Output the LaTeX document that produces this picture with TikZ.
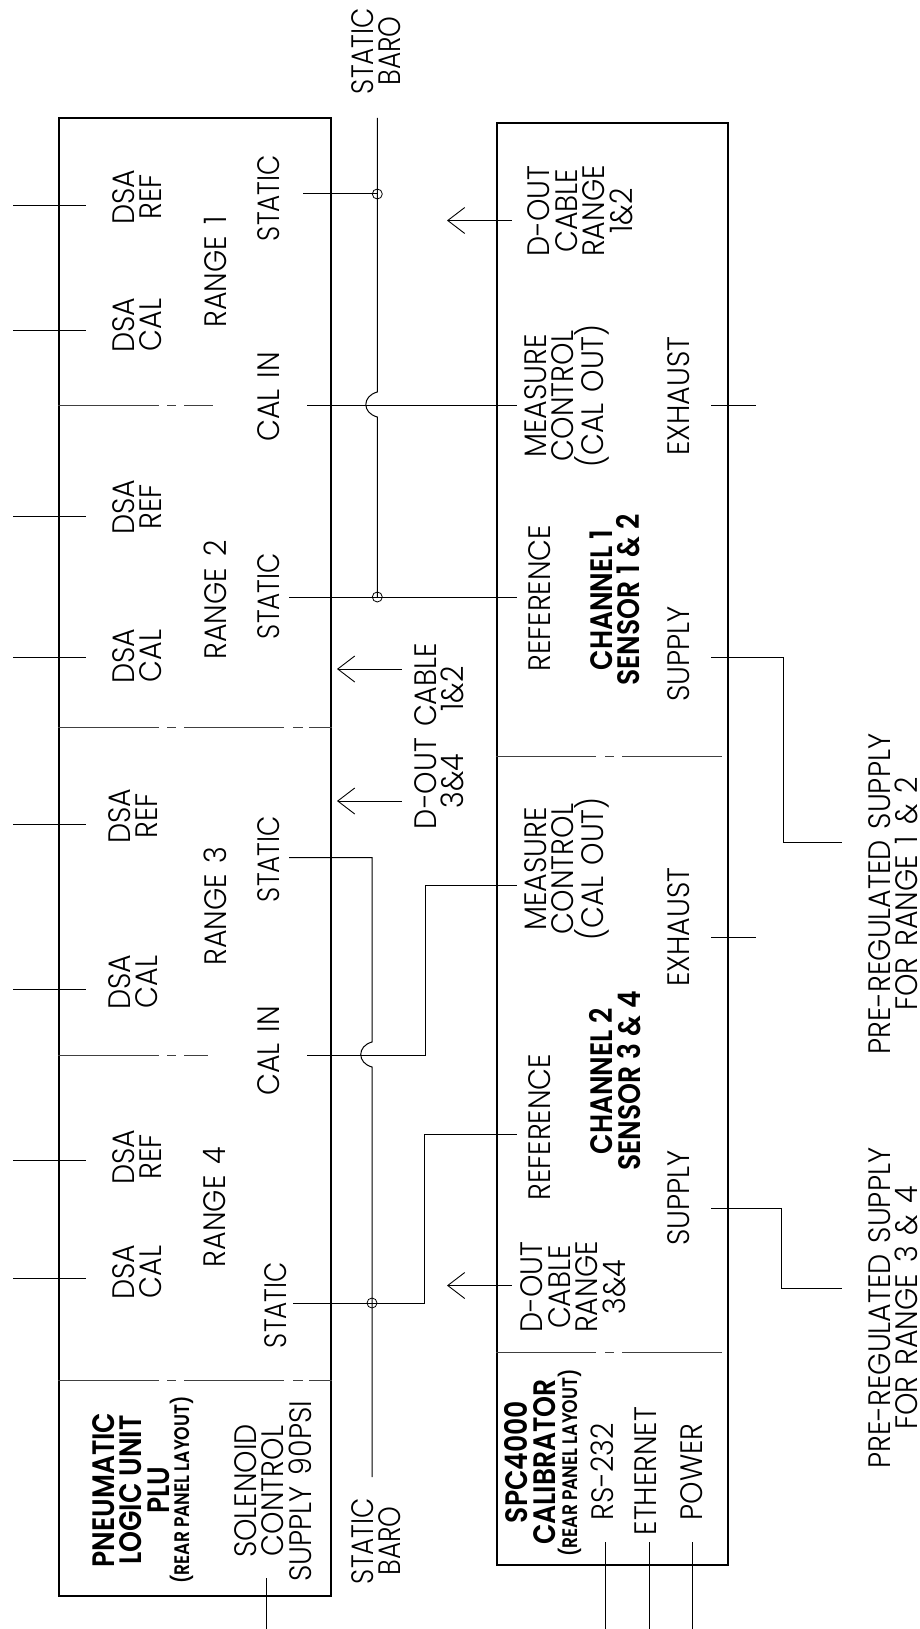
\documentclass[tikz,border=0pt]{standalone}
\usepackage{fontspec}
\setmainfont{Poppins Light}[FakeStretch=0.92,WordSpace=1.4]
\newfontfamily\titlefont{Poppins SemiBold}[FakeStretch=0.86,WordSpace=1.1]
\newfontfamily\subfont{Poppins SemiBold}[FakeStretch=0.82]
\newfontfamily\tightfont{Poppins Light}[FakeStretch=0.85]
\usetikzlibrary{arrows.meta,calc}

\begin{document}
\begin{tikzpicture}[
x=1pt, y=-1pt,
panel/.style={draw, line width=1.3pt, inner sep=0pt},
wire/.style={line width=1pt},
centerl/.style={line width=0.7pt, draw=black!75},
junction/.style={draw, circle, line width=0.8pt, inner sep=0pt, minimum size=10pt},
arrow/.style={{Straight Barb[length=17pt,width=26pt]}-, line width=0.9pt},
lbl/.style={xshift=2pt, rotate=90, align=center, inner sep=0pt, font=\fontsize{31}{27.5}\selectfont},
tight/.style={lbl, font=\fontsize{31}{27.5}\selectfont\tightfont},
title/.style={lbl, font=\fontsize{31}{27.5}\selectfont\titlefont},
subtitle/.style={lbl, font=\fontsize{21}{21}\selectfont\subfont}
]
\useasboundingbox (0,0) rectangle (919,1629);

% the two rear panels
\node[panel, minimum width=272pt, minimum height=1478pt] (plu) at (195,857) {};
\node[panel, minimum width=231pt, minimum height=1442pt] (spc) at (612.5,844) {};

% plu labels
\node[tight] (staticbarotop) at (374,51) {STATIC\\BARO};
\node[lbl] (dsaref1) at (135,197) {DSA\\REF};
\node[lbl] (dsacal1) at (135,325) {DSA\\CAL};
\node[lbl] (range1) at (213,272) {RANGE 1};
\node[tight] (static1) at (267,198) {STATIC};
\node[lbl] (calin1) at (267,397) {CAL IN};
\node[lbl] (dsaref2) at (135,507) {DSA\\REF};
\node[lbl] (dsacal2) at (135,656) {DSA\\CAL};
\node[lbl] (range2) at (213,600) {RANGE 2};
\node[tight] (static2) at (267,596) {STATIC};
\node[lbl] (dsaref3) at (131,816) {DSA\\REF};
\node[lbl] (dsacal3) at (131,982) {DSA\\CAL};
\node[lbl] (range3) at (213,906) {RANGE 3};
\node[tight] (static3) at (267,859) {STATIC};
\node[lbl] (calin3) at (267,1051) {CAL IN};
\node[lbl] (dsaref4) at (135,1157) {DSA\\REF};
\node[lbl] (dsacal4) at (135,1272) {DSA\\CAL};
\node[lbl] (range4) at (213,1207) {RANGE 4};
\node[tight] (static4) at (274,1305) {STATIC};
\node[title] (plutitle) at (129,1490) {PNEUMATIC\\LOGIC UNIT\\PLU};
\node[subtitle] (plurear) at (180,1490) {(REAR PANEL LAYOUT)};
\node[lbl] (solenoid) at (271,1491) {SOLENOID\\CONTROL\\SUPPLY 90PSI};
\node[tight] (staticbarobot) at (374,1541) {STATIC\\BARO};

% cable labels between the panels
\node[lbl] (dout) at (424,736) {D-OUT CABLE};
\node[lbl] (dout12) at (450,689) {1\&2};
\node[lbl] (dout34) at (450,781) {3\&4};

% spc labels
\node[lbl] (doutr12) at (578,211) {D-OUT\\CABLE\\RANGE\\1\&2};
\node[lbl] (measure1) at (565,396) {MEASURE\\CONTROL\\(CAL OUT)};
\node[lbl] (exhaust1) at (677,396) {EXHAUST};
\node[lbl] (reference1) at (538,598) {REFERENCE};
\node[title] (channel1) at (613,600) {CHANNEL 1\\SENSOR 1 \& 2};
\node[lbl] (supply1) at (677,654) {SUPPLY};
\node[lbl] (measure2) at (565,869) {MEASURE\\CONTROL\\(CAL OUT)};
\node[lbl] (exhaust2) at (677,927) {EXHAUST};
\node[lbl] (reference2) at (538,1127) {REFERENCE};
\node[title] (channel2) at (613,1081) {CHANNEL 2\\SENSOR 3 \& 4};
\node[lbl] (supply2) at (677,1198) {SUPPLY};
\node[lbl] (doutr34) at (571,1287) {D-OUT\\CABLE\\RANGE\\3\&4};
\node[title] (spctitle) at (528,1462) {SPC4000\\CALIBRATOR};
\node[subtitle] (spcrear) at (568,1463) {(REAR PANEL LAYOUT)};
\node[lbl] (rs232) at (600,1472) {RS-232};
\node[lbl] (ethernet) at (644,1471) {ETHERNET};
\node[lbl] (power) at (690,1472) {POWER};
\node[lbl] (prereg12) at (891,894) {PRE-REGULATED SUPPLY\\FOR RANGE 1 \& 2};
\node[lbl] (prereg34) at (891,1308) {PRE-REGULATED SUPPLY\\FOR RANGE 3 \& 4};

% junctions
\node[junction] (junc1) at (377.3,194) {};
\node[junction] (junc2) at (377.3,597) {};
\node[junction] (junc4) at (372,1303) {};

% dsa stubs
\foreach \n/\y in {a/206,b/330,c/516,d/657.5,e/824,f/989,g/1160,h/1278}{
  \coordinate (dsa\n) at (13,\y);
  \coordinate (dsb\n) at (86,\y);
  \draw[wire] (dsa\n) -- (dsb\n);
}

% bottom stubs
\foreach \n/\x/\t in {sol/266/1578,rs/605/1542,eth/649/1542,pow/692/1542}{
  \coordinate (top\n) at (\x,\t);
  \coordinate (bot\n) at (\x,1629);
  \draw[wire] (top\n) -- (bot\n);
}

% exhaust stubs
\foreach \n/\y in {1/405,2/937}{
  \coordinate (exa\n) at (711,\y);
  \coordinate (exb\n) at (756,\y);
  \draw[wire] (exa\n) -- (exb\n);
}

% panel dividers
\foreach \n/\y in {1/727.5,2/1380}{
  \draw[centerl, dash pattern=on 101pt off 8pt on 9pt off 8pt on 100pt off 9pt on 10pt off 6pt on 30pt]
    (plu.west |- 0,\y) -- (plu.east |- 0,\y);
}
\foreach \n/\y/\e in {3/405/213,4/1055/208}{
  \draw[centerl, dash pattern=on 101pt off 8pt on 9pt off 8pt on 100pt]
    (plu.west |- 0,\y) -- (\e,\y);
}
\foreach \y in {756,1352}{
  \draw[centerl, dash pattern=on 100pt off 9pt on 9pt off 8pt on 100pt]
    (spc.west |- 0,\y) -- (723,\y);
}

% static baro lines
\coordinate (baroatop) at (377.3,118);
\coordinate (hopa1) at (377.3,392);
\coordinate (hopa2) at (377.3,417);
\draw[wire] (baroatop) -- (hopa1) .. controls (362,396) and (362,413) .. (hopa2) -- (junc2.center);
\coordinate (statr3) at (289,857.5);
\coordinate (barobcor) at (372,857.5);
\coordinate (hopb1) at (372,1042);
\coordinate (hopb2) at (372,1067);
\coordinate (barobend) at (372,1477);
\draw[wire] (statr3) -- (barobcor) -- (hopb1) .. controls (357,1046) and (357,1063) .. (hopb2) -- (barobend);

% range connections
\coordinate (stat1) at (303,194);
\draw[wire] (stat1) -- (junc1.center);
\coordinate (stat2) at (289,597);
\coordinate (ref1) at (517,597);
\draw[wire] (stat2) -- (ref1);
\coordinate (cal1) at (307,405);
\coordinate (meas1) at (517,405);
\draw[wire] (cal1) -- (meas1);
\coordinate (cal3) at (307,1055);
\coordinate (meas2) at (517,885);
\draw[wire] (cal3) -| (425,885) -- (meas2);
\coordinate (stat4) at (293,1303);
\coordinate (ref2) at (517,1134);
\draw[wire] (stat4) -| (424,1134) -- (ref2);

% supplies
\coordinate (sup1) at (711,657.5);
\coordinate (pre1) at (842,842.5);
\draw[wire] (sup1) -| (783,842.5) -- (pre1);
\coordinate (sup2) at (711,1208.5);
\coordinate (pre2) at (842,1288);
\draw[wire] (sup2) -| (781,1288) -- (pre2);

% d-out arrows
\foreach \n/\xa/\xb/\y in {1/447/512/220.5,2/337/402/669,3/337/402/801,4/447/512/1285.5}{
  \coordinate (tip\n) at (\xa,\y);
  \coordinate (tail\n) at (\xb,\y);
  \draw[arrow] (tip\n) -- (tail\n);
}
\end{tikzpicture}
\end{document}
